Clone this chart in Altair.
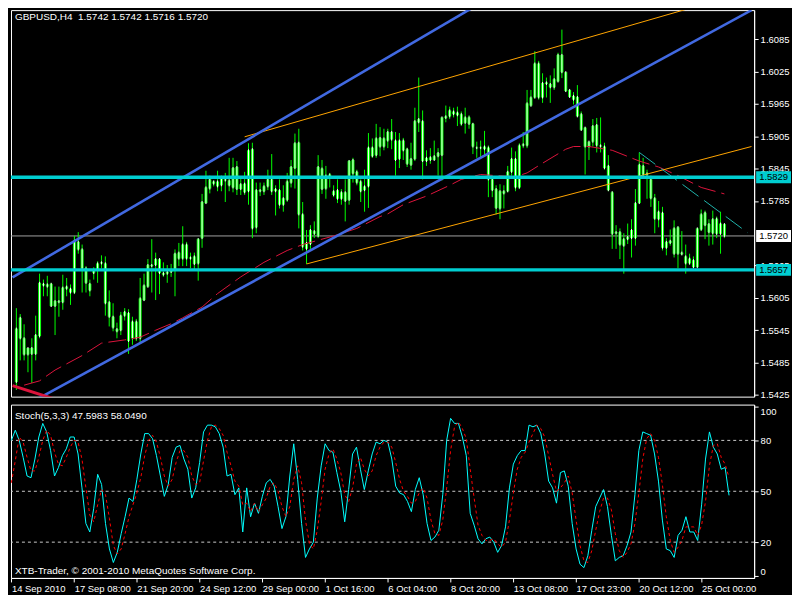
import altair as alt
import pandas as pd

FONT = "Liberation Sans"
W, H1, H2 = 746, 388, 174

# ---------------- price data (H4 bars, index 0 = 14 Sep 2010) ----------------
opens = [
    1.5449, 1.5530, 1.5530, 1.5512, 1.5501, 1.5501, 1.5534, 1.5631, 1.5626, 1.5631,
    1.5599, 1.5597, 1.5597, 1.5622, 1.5622, 1.5615, 1.5709, 1.5695, 1.5660, 1.5631,
    1.5651, 1.5657, 1.5669, 1.5669, 1.5597, 1.5570, 1.5547, 1.5545, 1.5572, 1.5577,
    1.5530, 1.5561, 1.5530, 1.5601, 1.5626, 1.5666, 1.5666, 1.5677, 1.5651, 1.5650,
    1.5653, 1.5657, 1.5689, 1.5678, 1.5704, 1.5678, 1.5682, 1.5669, 1.5716, 1.5781,
    1.5808, 1.5821, 1.5821, 1.5814, 1.5825, 1.5823, 1.5810, 1.5848, 1.5807, 1.5817,
    1.5803, 1.5881, 1.5736, 1.5805, 1.5803, 1.5812, 1.5825, 1.5803, 1.5805, 1.5790,
    1.5787, 1.5819, 1.5846, 1.5893, 1.5760, 1.5707, 1.5705, 1.5729, 1.5720, 1.5845,
    1.5808, 1.5830, 1.5803, 1.5805, 1.5789, 1.5801, 1.5787, 1.5861, 1.5839, 1.5821,
    1.5805, 1.5812, 1.5884, 1.5870, 1.5886, 1.5901, 1.5897, 1.5913, 1.5897, 1.5863,
    1.5897, 1.5881, 1.5852, 1.5863, 1.5931, 1.5933, 1.5859, 1.5861, 1.5861, 1.5868,
    1.5870, 1.5939, 1.5942, 1.5951, 1.5949, 1.5946, 1.5930, 1.5940, 1.5928, 1.5884,
    1.5883, 1.5881, 1.5884, 1.5825, 1.5807, 1.5803, 1.5799, 1.5803, 1.5839, 1.5863,
    1.5810, 1.5888, 1.5888, 1.5962, 1.5977, 1.6040, 1.5977, 1.6002, 1.6002, 1.5996,
    1.6007, 1.6056, 1.6024, 1.5991, 1.5980, 1.5978, 1.5946, 1.5921, 1.5895, 1.5895,
    1.5926, 1.5888, 1.5886, 1.5850, 1.5801, 1.5725, 1.5727, 1.5714, 1.5714, 1.5716,
    1.5716, 1.5781, 1.5850, 1.5836, 1.5825, 1.5790, 1.5765, 1.5763, 1.5709, 1.5707,
    1.5687, 1.5736, 1.5686, 1.5682, 1.5669, 1.5675, 1.5662, 1.5732, 1.5763, 1.5742,
    1.5725, 1.5752, 1.5724, 1.5742,
]
highs = [
    1.5586, 1.5575, 1.5556, 1.5512, 1.5530, 1.5572, 1.5650, 1.5639, 1.5646, 1.5633,
    1.5626, 1.5626, 1.5648, 1.5642, 1.5630, 1.5720, 1.5727, 1.5704, 1.5664, 1.5639,
    1.5662, 1.5673, 1.5684, 1.5682, 1.5619, 1.5595, 1.5559, 1.5579, 1.5586, 1.5584,
    1.5570, 1.5566, 1.5642, 1.5650, 1.5677, 1.5714, 1.5689, 1.5678, 1.5671, 1.5666,
    1.5668, 1.5695, 1.5707, 1.5738, 1.5709, 1.5689, 1.5689, 1.5716, 1.5798, 1.5841,
    1.5832, 1.5823, 1.5841, 1.5832, 1.5837, 1.5865, 1.5865, 1.5859, 1.5828, 1.5839,
    1.5892, 1.5893, 1.5819, 1.5819, 1.5819, 1.5843, 1.5872, 1.5814, 1.5825, 1.5814,
    1.5837, 1.5861, 1.5910, 1.5919, 1.5783, 1.5731, 1.5740, 1.5747, 1.5870, 1.5861,
    1.5850, 1.5837, 1.5814, 1.5825, 1.5807, 1.5825, 1.5861, 1.5865, 1.5843, 1.5825,
    1.5843, 1.5911, 1.5901, 1.5928, 1.5922, 1.5919, 1.5919, 1.5937, 1.5913, 1.5911,
    1.5902, 1.5884, 1.5893, 1.5958, 1.6014, 1.5953, 1.5879, 1.5883, 1.5897, 1.5883,
    1.5940, 1.5962, 1.5960, 1.5958, 1.5960, 1.5951, 1.5958, 1.5944, 1.5930, 1.5895,
    1.5897, 1.5915, 1.5888, 1.5830, 1.5814, 1.5816, 1.5814, 1.5850, 1.5884, 1.5877,
    1.5892, 1.5913, 1.5991, 1.5991, 1.6063, 1.6045, 1.6022, 1.6014, 1.6018, 1.6031,
    1.6060, 1.6103, 1.6024, 1.5991, 1.5987, 1.6000, 1.5951, 1.5922, 1.5895, 1.5937,
    1.5939, 1.5940, 1.5893, 1.5870, 1.5803, 1.5740, 1.5734, 1.5725, 1.5743, 1.5751,
    1.5807, 1.5875, 1.5865, 1.5843, 1.5832, 1.5798, 1.5785, 1.5774, 1.5716, 1.5732,
    1.5749, 1.5738, 1.5729, 1.5704, 1.5687, 1.5682, 1.5734, 1.5769, 1.5767, 1.5751,
    1.5767, 1.5756, 1.5765, 1.5742,
]
lows = [
    1.5434, 1.5489, 1.5489, 1.5467, 1.5447, 1.5489, 1.5530, 1.5608, 1.5608, 1.5588,
    1.5536, 1.5570, 1.5583, 1.5608, 1.5592, 1.5612, 1.5687, 1.5615, 1.5615, 1.5608,
    1.5639, 1.5633, 1.5660, 1.5572, 1.5552, 1.5543, 1.5530, 1.5536, 1.5563, 1.5501,
    1.5518, 1.5525, 1.5521, 1.5599, 1.5624, 1.5615, 1.5601, 1.5612, 1.5644, 1.5633,
    1.5644, 1.5608, 1.5664, 1.5664, 1.5664, 1.5660, 1.5657, 1.5637, 1.5698, 1.5780,
    1.5799, 1.5812, 1.5803, 1.5803, 1.5783, 1.5803, 1.5801, 1.5796, 1.5796, 1.5796,
    1.5778, 1.5716, 1.5725, 1.5794, 1.5796, 1.5805, 1.5796, 1.5758, 1.5771, 1.5765,
    1.5783, 1.5810, 1.5808, 1.5734, 1.5693, 1.5668, 1.5696, 1.5716, 1.5716, 1.5798,
    1.5789, 1.5810, 1.5792, 1.5781, 1.5778, 1.5747, 1.5778, 1.5819, 1.5814, 1.5783,
    1.5765, 1.5772, 1.5865, 1.5865, 1.5868, 1.5879, 1.5883, 1.5881, 1.5832, 1.5846,
    1.5861, 1.5848, 1.5843, 1.5859, 1.5913, 1.5825, 1.5850, 1.5854, 1.5861, 1.5832,
    1.5823, 1.5931, 1.5937, 1.5940, 1.5924, 1.5924, 1.5910, 1.5919, 1.5872, 1.5865,
    1.5865, 1.5868, 1.5792, 1.5792, 1.5760, 1.5751, 1.5771, 1.5801, 1.5832, 1.5803,
    1.5807, 1.5883, 1.5883, 1.5960, 1.5975, 1.5973, 1.5967, 1.5977, 1.5967, 1.5991,
    1.6005, 1.6013, 1.5987, 1.5977, 1.5964, 1.5942, 1.5915, 1.5834, 1.5861, 1.5886,
    1.5875, 1.5875, 1.5843, 1.5803, 1.5696, 1.5696, 1.5677, 1.5650, 1.5705, 1.5680,
    1.5702, 1.5780, 1.5828, 1.5789, 1.5774, 1.5725, 1.5736, 1.5693, 1.5684, 1.5702,
    1.5680, 1.5660, 1.5684, 1.5650, 1.5666, 1.5660, 1.5662, 1.5729, 1.5714, 1.5702,
    1.5704, 1.5716, 1.5687, 1.5716,
]
closes = [
    1.5548, 1.5568, 1.5500, 1.5500, 1.5512, 1.5536, 1.5633, 1.5628, 1.5630, 1.5590,
    1.5590, 1.5599, 1.5624, 1.5626, 1.5615, 1.5711, 1.5695, 1.5660, 1.5633, 1.5619,
    1.5655, 1.5669, 1.5671, 1.5595, 1.5570, 1.5550, 1.5543, 1.5572, 1.5579, 1.5525,
    1.5561, 1.5530, 1.5604, 1.5628, 1.5666, 1.5664, 1.5677, 1.5651, 1.5648, 1.5653,
    1.5657, 1.5687, 1.5678, 1.5704, 1.5678, 1.5680, 1.5668, 1.5714, 1.5783, 1.5810,
    1.5825, 1.5817, 1.5812, 1.5827, 1.5823, 1.5814, 1.5846, 1.5807, 1.5816, 1.5801,
    1.5879, 1.5734, 1.5805, 1.5803, 1.5812, 1.5825, 1.5803, 1.5807, 1.5778, 1.5778,
    1.5821, 1.5848, 1.5892, 1.5760, 1.5700, 1.5696, 1.5731, 1.5724, 1.5848, 1.5807,
    1.5832, 1.5834, 1.5796, 1.5789, 1.5801, 1.5785, 1.5859, 1.5836, 1.5819, 1.5803,
    1.5812, 1.5884, 1.5868, 1.5901, 1.5902, 1.5886, 1.5913, 1.5899, 1.5861, 1.5897,
    1.5879, 1.5854, 1.5863, 1.5933, 1.5937, 1.5859, 1.5865, 1.5866, 1.5868, 1.5874,
    1.5940, 1.5942, 1.5953, 1.5946, 1.5944, 1.5928, 1.5940, 1.5928, 1.5886, 1.5883,
    1.5884, 1.5886, 1.5825, 1.5805, 1.5772, 1.5771, 1.5803, 1.5839, 1.5863, 1.5810,
    1.5888, 1.5890, 1.5966, 1.5977, 1.6040, 1.5977, 1.6004, 1.6005, 1.5996, 1.6011,
    1.6056, 1.6024, 1.5989, 1.5978, 1.5973, 1.5942, 1.5917, 1.5886, 1.5886, 1.5924,
    1.5888, 1.5886, 1.5846, 1.5805, 1.5724, 1.5727, 1.5704, 1.5702, 1.5718, 1.5731,
    1.5781, 1.5852, 1.5834, 1.5834, 1.5790, 1.5752, 1.5751, 1.5698, 1.5698, 1.5711,
    1.5734, 1.5687, 1.5689, 1.5669, 1.5678, 1.5662, 1.5734, 1.5760, 1.5740, 1.5727,
    1.5751, 1.5724, 1.5743, 1.5720,
]

# moving average (dashed crimson) vertices
ma_bars = [2, 6, 10, 17, 22, 28, 32, 36, 40, 43, 48, 52, 58, 64, 70, 74, 82, 88, 94, 96,
           100, 106, 112, 115, 120, 124, 129, 132, 136, 142, 144, 148, 154, 161, 166, 171, 177, 183]
ma_vals = [1.5443, 1.5451, 1.5471, 1.5498, 1.5521, 1.5527, 1.5532, 1.5545, 1.5557, 1.5568,
           1.5588, 1.5613, 1.5644, 1.5671, 1.5693, 1.5704, 1.5720, 1.5734, 1.5756, 1.5761,
           1.5778, 1.5794, 1.5814, 1.5825, 1.5834, 1.5832, 1.5830, 1.5837, 1.5855, 1.5881,
           1.5886, 1.5886, 1.5879, 1.5859, 1.5848, 1.5832, 1.5810, 1.5798]

# drawn objects: (bar index, price) endpoints
chan_a_bars, chan_a_prices = [-1, 118], [1.5643, 1.6144]
chan_b_bars, chan_b_prices = [0, 190], [1.5396, 1.6139]
orange_up_bars, orange_up_prices = [59, 180], [1.5904, 1.6155]
orange_lo_bars, orange_lo_prices = [75, 190], [1.5668, 1.5886]
red_seg_bars, red_seg_prices = [-1, 10], [1.5442, 1.5417]
teal_bars, teal_prices = [161, 189], [1.5875, 1.5726]

hline_cyan = [1.5829, 1.5657]
bid_line = 1.5720
box_prices = [1.5829, 1.5657, 1.5720]
box_labels = ["1.5829", "1.5657", "1.5720"]
box_fill = ["#00CED1", "#00CED1", "#FFFFFF"]

# 1.5725 sits completely under the 1.5720 price box in the reference
price_ticks = [1.6085, 1.6025, 1.5965, 1.5905, 1.5845, 1.5785,
               1.5665, 1.5605, 1.5545, 1.5485, 1.5425]

# stochastic (5,3,3)
stoch_main = [
    80, 86, 80, 70, 59, 58, 69, 82, 90, 85,
    74, 59, 64, 71, 75, 82, 82, 72, 52, 31,
    26, 40, 60, 54, 31, 16, 8, 14, 25, 35,
    46, 44, 57, 72, 84, 84, 81, 71, 59, 47,
    54, 70, 76, 77, 69, 63, 46, 52, 67, 85,
    89, 89, 88, 84, 76, 59, 60, 48, 52, 26,
    52, 35, 43, 37, 47, 55, 57, 53, 41, 28,
    35, 59, 78, 57, 31, 11, 16, 20, 46, 65,
    78, 74, 73, 61, 50, 32, 51, 72, 76, 63,
    51, 62, 72, 79, 78, 80, 79, 69, 53, 49,
    48, 44, 38, 51, 58, 48, 31, 21, 23, 27,
    48, 80, 93, 90, 90, 82, 71, 37, 30, 22,
    19, 22, 23, 20, 14, 18, 29, 52, 66, 71,
    74, 74, 89, 88, 89, 84, 72, 56, 52, 43,
    61, 62, 53, 31, 16, 7, 5, 12, 27, 41,
    46, 51, 41, 24, 9, 11, 12, 18, 26, 48,
    74, 85, 84, 83, 72, 56, 33, 16, 15, 11,
    24, 27, 35, 26, 26, 21, 42, 69, 85, 76,
    72, 63, 64, 47.6,
]
stoch_signal = [
    55, 68, 82, 79, 70, 62, 62, 70, 80, 86,
    83, 73, 66, 65, 70, 76, 80, 79, 69, 52,
    36, 32, 42, 51, 48, 34, 18, 13, 16, 25,
    35, 42, 49, 58, 71, 80, 83, 79, 70, 59,
    53, 57, 67, 74, 74, 70, 59, 54, 55, 68,
    80, 88, 89, 87, 83, 73, 65, 56, 53, 42,
    43, 38, 43, 38, 42, 46, 53, 55, 50, 41,
    35, 41, 57, 65, 55, 33, 19, 16, 27, 44,
    63, 72, 75, 69, 61, 48, 44, 52, 66, 70,
    63, 59, 62, 71, 76, 79, 79, 76, 67, 57,
    50, 47, 43, 44, 49, 52, 46, 33, 25, 24,
    33, 52, 74, 88, 91, 87, 81, 63, 46, 30,
    24, 21, 21, 22, 19, 17, 20, 33, 49, 63,
    70, 73, 79, 84, 89, 87, 82, 71, 60, 50,
    52, 55, 59, 49, 33, 18, 9, 8, 15, 27,
    38, 46, 46, 39, 25, 15, 11, 14, 19, 31,
    49, 69, 81, 84, 80, 70, 54, 35, 21, 14,
    17, 21, 29, 29, 29, 24, 30, 44, 65, 77,
    78, 70, 66, 58.05,
]
stoch_levels = [80, 50, 20]
stoch_ticks = [100, 80, 50, 20, 0]

date_ticks = [0, 16, 32, 48, 64, 80, 96, 112, 128, 144, 160, 176]
date_labels = ["14 Sep 2010", "17 Sep 08:00", "21 Sep 20:00", "24 Sep 12:00",
               "29 Sep 00:00", "1 Oct 16:00", "6 Oct 04:00", "8 Oct 20:00",
               "13 Oct 08:00", "17 Oct 23:00", "20 Oct 12:00", "25 Oct 00:00"]

title_main = "GBPUSD,H4\u00a0\u00a01.5742 1.5742 1.5716 1.5720"
title_stoch = "Stoch(5,3,3) 47.5983 58.0490"
copyright_text = "XTB-Trader, \u00a9 2001-2010 MetaQuotes Software Corp."

# ---------------- frames ----------------
n = len(opens)
bars = pd.DataFrame({"i": list(range(n)), "open": opens, "high": highs,
                     "low": lows, "close": closes})
bars["top"] = bars[["open", "close"]].max(axis=1)
bars["bot"] = bars[["open", "close"]].min(axis=1)

ma_df = pd.DataFrame({"i": ma_bars, "p": ma_vals})


def seg(bx, py):
    return pd.DataFrame({"i": bx, "p": py})


stoch = pd.DataFrame({"i": list(range(n)), "main": stoch_main, "signal": stoch_signal})

xs = alt.Scale(domain=[-0.1, 189.4], nice=False, zero=False)
ys = alt.Scale(domain=[1.54217, 1.61392], nice=False, zero=False)
ss = alt.Scale(domain=[-1.1, 101.1], nice=False, zero=False)

y_axis = alt.Axis(orient="right", values=price_ticks, format=".4f", title=None,
                  tickSize=4, labelPadding=2, labelOverlap=False)
s_axis = alt.Axis(orient="right", values=stoch_ticks, title=None, tickSize=4,
                  labelPadding=2, labelOverlap=False, labelFlush=4)
expr = "[" + ",".join("'%s'" % s for s in date_labels) + "][round(datum.value/16)]"
x_axis = alt.Axis(orient="bottom", values=date_ticks, labelExpr=expr, labelAlign="left",
                  labelPadding=2, tickSize=4, title=None, labelOverlap=False)


def xt(f):
    return alt.X(f, type="quantitative", scale=xs, axis=None)


def yt(f):
    return alt.Y(f, type="quantitative", scale=ys, axis=y_axis)


def xb(f):
    return alt.X(f, type="quantitative", scale=xs, axis=x_axis)


def yb(f):
    return alt.Y(f, type="quantitative", scale=ss, axis=s_axis)


def line_layer(df, color, width, dash=None):
    kw = dict(color=color, strokeWidth=width, clip=True)
    if dash:
        kw["strokeDash"] = dash
    return alt.Chart(df).mark_line(**kw).encode(x=xt("i"), y=yt("p"))


wicks = alt.Chart(bars).mark_rule(color="#00FF00", strokeWidth=1).encode(
    x=xt("i"), y=yt("low"), y2="high")
bodies = alt.Chart(bars).mark_bar(width=3, color="#00FF00", minBandSize=1).encode(
    x=xt("i"), y=yt("bot"), y2="top")
cores = alt.Chart(bars).mark_rule(color="#FFFFFF", strokeWidth=1, yOffset=1,
                                  y2Offset=-1).encode(x=xt("i"), y=yt("bot"), y2="top")

bid = alt.Chart(pd.DataFrame({"p": [bid_line]})).mark_rule(
    color="#A0A0A0", strokeWidth=1).encode(y=yt("p"))
cyan_rules = alt.Chart(pd.DataFrame({"p": hline_cyan})).mark_rule(
    color="#00CED1", strokeWidth=3.5).encode(y=yt("p"))

ma_line = line_layer(ma_df, "#DC143C", 1, [18, 6])
blue_a = line_layer(seg(chan_a_bars, chan_a_prices), "#4169E1", 2.6)
blue_b = line_layer(seg(chan_b_bars, chan_b_prices), "#4169E1", 2.6)
or_up = line_layer(seg(orange_up_bars, orange_up_prices), "#FFA500", 1)
or_lo = line_layer(seg(orange_lo_bars, orange_lo_prices), "#FFA500", 1)
red_seg = line_layer(seg(red_seg_bars, red_seg_prices), "#DC143C", 3)
teal = line_layer(seg(teal_bars, teal_prices), "#20B2AA", 1, [20, 7])

boxes_df = pd.DataFrame({"p": box_prices, "lab": box_labels, "bg": box_fill})
boxes = alt.Chart(boxes_df).mark_rect(clip=False, yOffset=-6, y2Offset=6).encode(
    y=yt("p"), y2="p", x=alt.value(W + 2), x2=alt.value(W + 37),
    color=alt.Color("bg:N", scale=None))
box_text = alt.Chart(boxes_df).mark_text(align="left", baseline="middle", font=FONT,
                                         fontSize=9.5, color="#000000").encode(
    y=yt("p"), x=alt.value(W + 5), text="lab:N")

title_top = alt.Chart(pd.DataFrame({"t": [title_main]})).mark_text(
    align="left", baseline="middle", font=FONT, fontSize=10, color="#FFFFFF").encode(
    x=alt.value(4), y=alt.value(7), text="t:N")

top = alt.layer(
    bid, wicks, bodies, cores, ma_line, or_up, or_lo, blue_a, blue_b, red_seg, teal,
    cyan_rules, boxes, box_text, title_top
).properties(width=W, height=H1)

levels = alt.Chart(pd.DataFrame({"v": stoch_levels})).mark_rule(
    color="#C8C8C8", strokeDash=[3, 3], strokeWidth=1).encode(y=yb("v"))
main_line = alt.Chart(stoch).mark_line(color="#00FFFF", strokeWidth=1).encode(
    x=xb("i"), y=yb("main"))
sig_line = alt.Chart(stoch).mark_line(color="#FF0000", strokeWidth=1,
                                      strokeDash=[3, 3]).encode(x=xb("i"), y=yb("signal"))
title_low = alt.Chart(pd.DataFrame({"t": [title_stoch]})).mark_text(
    align="left", baseline="middle", font=FONT, fontSize=10, color="#FFFFFF").encode(
    x=alt.value(4), y=alt.value(11), text="t:N")
copy_low = alt.Chart(pd.DataFrame({"t": [copyright_text]})).mark_text(
    align="left", baseline="middle", font=FONT, fontSize=10, color="#FFFFFF").encode(
    x=alt.value(4), y=alt.value(H2 - 7), text="t:N")

bottom = alt.layer(levels, main_line, sig_line, title_low, copy_low).properties(
    width=W, height=H2)

chart = alt.vconcat(top, bottom, spacing=3).properties(
    background="black", padding=0
).configure_view(
    stroke="white", strokeWidth=1
).configure_axis(
    labelColor="white", tickColor="white", domainColor="white", labelFont=FONT,
    labelFontSize=9.5, grid=False, domainWidth=1, tickWidth=1
)

chart.save("out.html", embed_options={"renderer": "svg", "actions": False})
